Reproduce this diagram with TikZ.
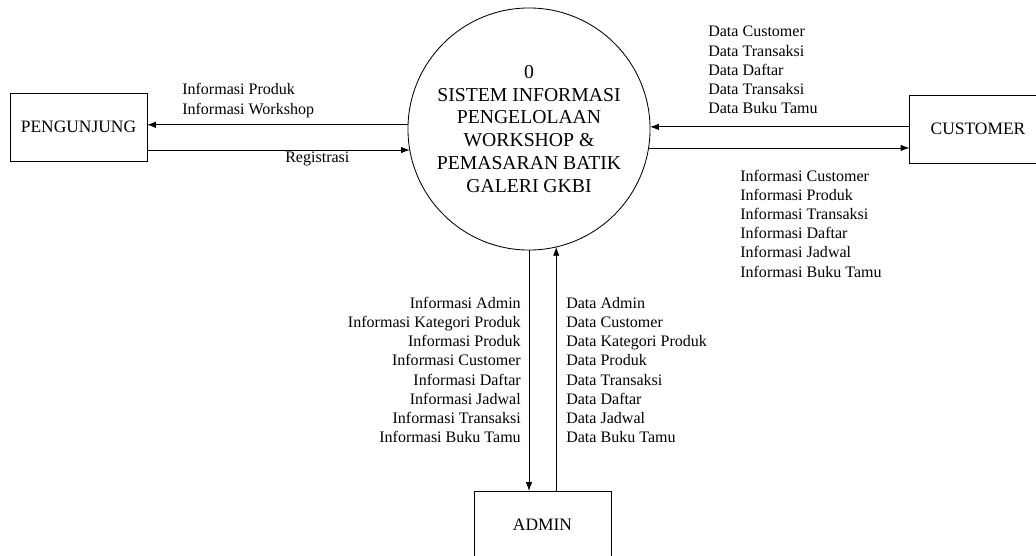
\documentclass[tikz,border=0pt]{standalone}
\usepackage{fontspec}
\setmainfont{Liberation Serif}
\usetikzlibrary{arrows.meta}
\begin{document}
\begin{tikzpicture}[x=0.025cm,y=-0.025cm,
  entity/.style={draw,line width=0.6pt,minimum width=3.425cm,minimum height=1.7cm,inner sep=0pt,outer sep=0pt,font=\fontsize{12.4}{15}\selectfont},
  flow/.style={line width=0.6pt,-{Latex[length=2.2mm,width=1.6mm]}},
  lbl/.style={inner sep=0pt,font=\fontsize{11.4}{13.66}\selectfont}]
\useasboundingbox (0,0) rectangle (1036,555);
\clip (0,0) rectangle (1036,555);
% process
\node [circle,draw,line width=0.6pt,minimum size=6.05cm,inner sep=0pt,outer sep=0pt,align=center,font=\fontsize{14}{16.3}\selectfont] (sys) at (529,129)
  {0\\SISTEM INFORMASI\\PENGELOLAAN\\WORKSHOP \&\\PEMASARAN BATIK\\GALERI GKBI};
% entities
\node [entity] (pgn) at (78.5,127) {PENGUNJUNG};
\node [entity] (cst) at (978,129) {CUSTOMER};
\node [entity] (adm) at (542.5,525) {ADMIN};
% flows
\draw [flow] (sys.178.6) -- (sys.178.6 -| pgn.east);
\draw [flow] (pgn.east |- sys.190) -- (sys.190);
\draw [flow] (cst.west |- sys.1.4) -- (sys.1.4);
\draw [flow] (sys.-9) -- (sys.-9 -| cst.west);
\draw [flow] (sys.south) -- (sys.south |- adm.north);
\draw [flow] (adm.north -| sys.283.9) -- (sys.283.9);
% labels
\node [lbl,anchor=west,align=left] (lpgnout) at (182,100.5) {Informasi Produk\\Informasi Workshop};
\node [lbl,anchor=west] (lpgnin) at (285,159) {Registrasi};
\node [lbl,anchor=west,align=left] (lcstin) at (708,70)
  {Data Customer\\Data Transaksi\\Data Daftar\\Data Transaksi\\Data Buku Tamu};
\node [lbl,anchor=west,align=left] (lcstout) at (740,223.5)
  {Informasi Customer\\Informasi Produk\\Informasi Transaksi\\Informasi Daftar\\Informasi Jadwal\\Informasi Buku Tamu};
\node [lbl,anchor=east,align=right] (ladmout) at (521,370)
  {Informasi Admin\\Informasi Kategori Produk\\Informasi Produk\\Informasi Customer\\Informasi Daftar\\Informasi Jadwal\\Informasi Transaksi\\Informasi Buku Tamu};
\node [lbl,anchor=west,align=left] (ladmin) at (566,370)
  {Data Admin\\Data Customer\\Data Kategori Produk\\Data Produk\\Data Transaksi\\Data Daftar\\Data Jadwal\\Data Buku Tamu};
\end{tikzpicture}
\end{document}
